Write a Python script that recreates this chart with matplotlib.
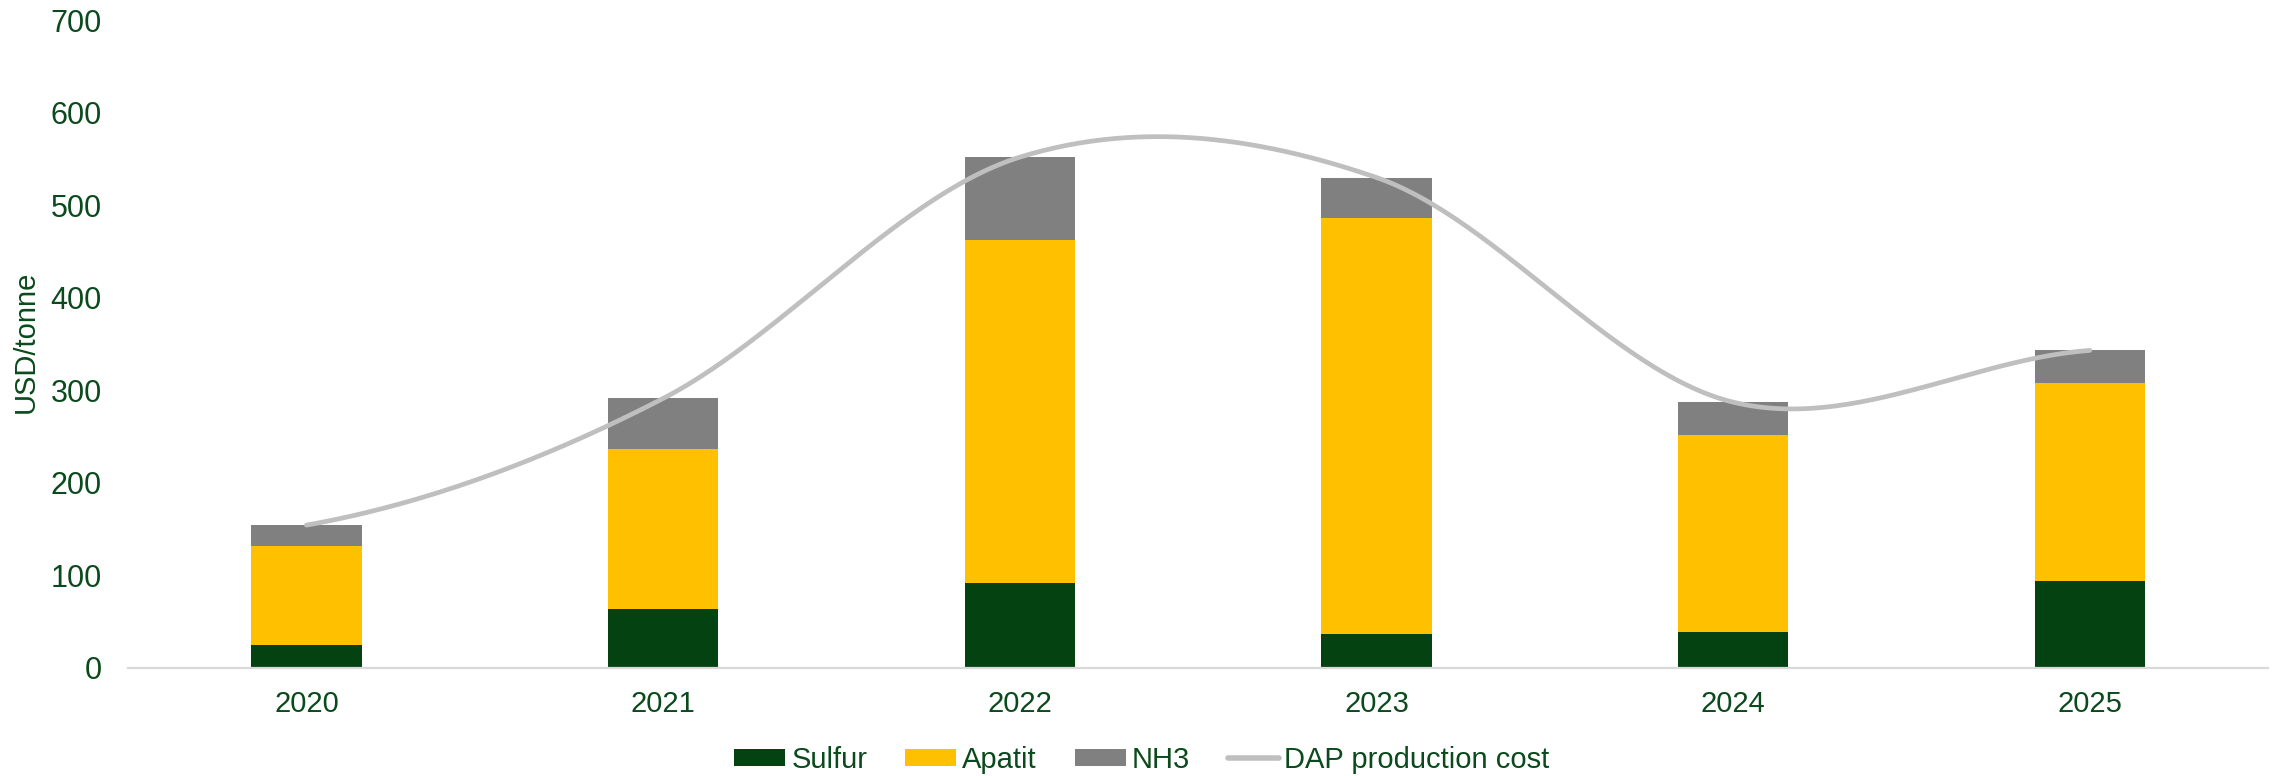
import numpy as np
import matplotlib.pyplot as plt
from matplotlib.lines import Line2D
from matplotlib.patches import Patch

# Cost components per tonne DAP
years = ['2020', '2021', '2022', '2023', '2024', '2025']
sulfur = [24, 63, 91, 36, 38, 94]
apatit = [107, 173, 371, 450, 214, 214]
nh3 = [23, 55, 90, 44, 35, 35]
dap_cost = [154, 291, 552, 530, 287, 343]

green = '#044212'
text_col = '#0a4a1c'
tick_font = ['Liberation Sans', 'DejaVu Sans']
narrow_font = ['Liberation Sans Narrow', 'Liberation Sans', 'DejaVu Sans']


def smooth_line(xs, ys, n=60):
    # cubic Hermite curve with Catmull-Rom tangents (spreadsheet-style smoothing)
    xs = np.asarray(xs, float)
    ys = np.asarray(ys, float)
    m = np.zeros_like(ys)
    m[1:-1] = (ys[2:] - ys[:-2]) / 2
    m[0] = (ys[1] - ys[0]) / 2
    m[-1] = (ys[-1] - ys[-2]) / 2
    out_x, out_y = [], []
    for i in range(len(xs) - 1):
        t = np.linspace(0, 1, n)
        h00 = 2 * t**3 - 3 * t**2 + 1
        h10 = t**3 - 2 * t**2 + t
        h01 = -2 * t**3 + 3 * t**2
        h11 = t**3 - t**2
        out_x.append(xs[i] + t * (xs[i + 1] - xs[i]))
        out_y.append(h00 * ys[i] + h10 * m[i] + h01 * ys[i + 1] + h11 * m[i + 1])
    return np.concatenate(out_x), np.concatenate(out_y)


fig = plt.figure(figsize=(22.75, 7.76), dpi=100)
ax = fig.add_axes([0.0563, 0.1398, 0.9407, 0.834])

x = np.arange(len(years))
w = 0.31
s = np.array(sulfur)
a = np.array(apatit)
n = np.array(nh3)
ax.bar(x, s, w, color=green, zorder=2)
ax.bar(x, a, w, bottom=s, color='#FFC000', zorder=2)
ax.bar(x, n, w, bottom=s + a, color='#808080', zorder=2)

lx, ly = smooth_line(x, dap_cost)
ax.plot(lx, ly, color='#BFBFBF', lw=3.4, solid_capstyle='round', zorder=3)

ax.set_xlim(-0.5, len(years) - 0.5)
ax.set_ylim(0, 700)
ax.set_yticks(range(0, 701, 100))
ax.set_xticks(x)
ax.set_xticklabels(years)
for lab in ax.get_yticklabels():
    lab.set_family(tick_font)
    lab.set_fontsize(22)
    lab.set_color(text_col)
for lab in ax.get_xticklabels():
    lab.set_family(tick_font)
    lab.set_fontsize(21)
    lab.set_color(text_col)
ax.tick_params(axis='both', length=0)
ax.tick_params(axis='y', pad=19)
ax.tick_params(axis='x', pad=16)

for side in ['top', 'right', 'left']:
    ax.spines[side].set_visible(False)
ax.spines['bottom'].set_color('#D9D9D9')
ax.spines['bottom'].set_linewidth(1.6)
ax.spines['bottom'].set_zorder(4)

fig.text(0.0115, 0.56, 'USD/tonne', rotation=90, ha='center', va='center',
         family=narrow_font, fontsize=21, color=text_col)

handles = [
    Patch(facecolor=green, label='Sulfur'),
    Patch(facecolor='#FFC000', label='Apatit'),
    Patch(facecolor='#808080', label='NH3'),
    Line2D([], [], color='#BFBFBF', lw=4, solid_capstyle='round', label='DAP production cost'),
]
leg = fig.legend(handles=handles, loc='center', bbox_to_anchor=(0.502, 0.021), ncol=4,
                 frameon=False, handlelength=1.75, handleheight=0.5, handletextpad=0.2,
                 columnspacing=1.3, prop={'family': narrow_font, 'size': 21})
for t in leg.get_texts():
    t.set_color(text_col)

plt.savefig('out.png', dpi=100)
